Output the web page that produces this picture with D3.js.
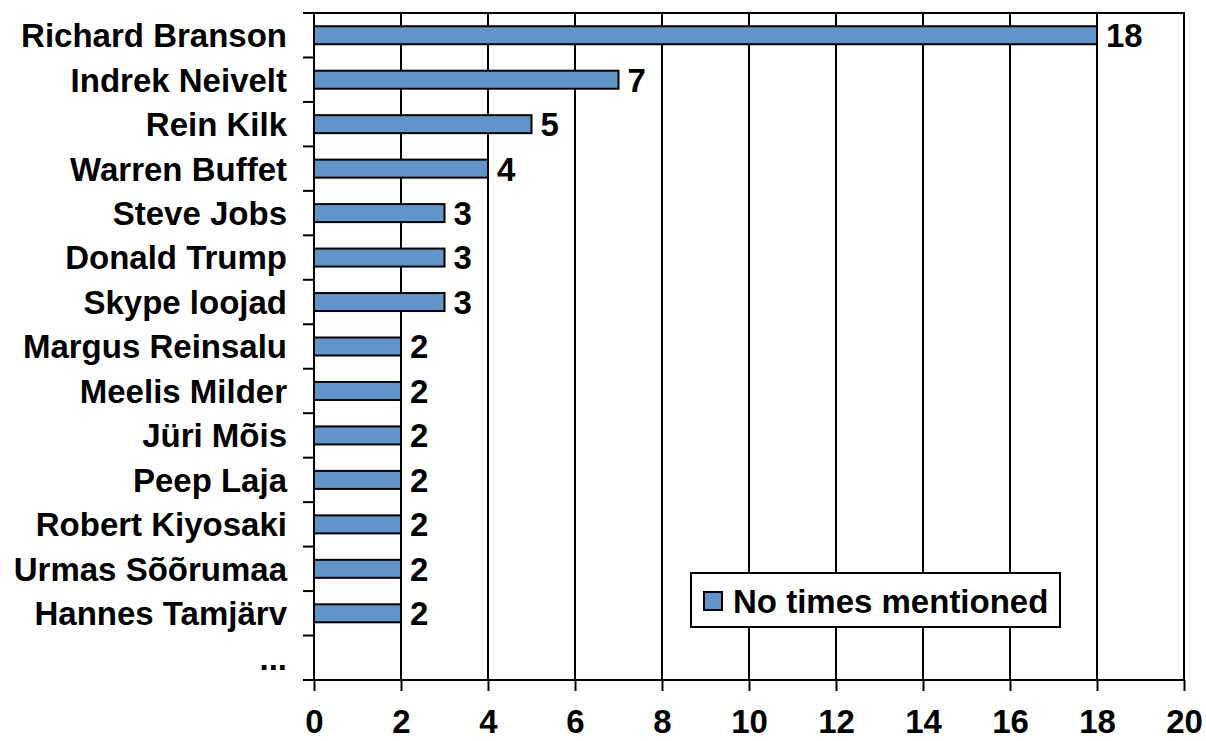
<!DOCTYPE html>
<html><head><meta charset="utf-8">
<script src="https://cdn.jsdelivr.net/npm/d3@7"></script>
<style>body{margin:0;background:#fff}svg{display:block}text{font-family:"Liberation Sans",Arial,sans-serif;font-weight:bold;fill:#000}</style>
</head><body>
<script>
const categories = ["Richard Branson","Indrek Neivelt","Rein Kilk","Warren Buffet","Steve Jobs","Donald Trump","Skype loojad","Margus Reinsalu","Meelis Milder","Jüri Mõis","Peep Laja","Robert Kiyosaki","Urmas Sõõrumaa","Hannes Tamjärv","..."];
const values = [18,7,5,4,3,3,3,2,2,2,2,2,2,2,null];
const xTicks = [0,2,4,6,8,10,12,14,16,18,20];
const seriesName = "No times mentioned";

const W=1206,H=741;
const L=314,R=1184,T=13,B=680;
const svg=d3.select("body").append("svg").attr("width",W).attr("height",H);
const x=d3.scaleLinear().domain([0,20]).range([L,R]);
const y=d3.scaleBand().domain(categories).range([T,B]).paddingInner(0).paddingOuter(0);
const fs=33;

// gridlines
svg.append("g").selectAll("line").data(xTicks.slice(1)).join("line")
 .attr("x1",d=>x(d)).attr("x2",d=>x(d)).attr("y1",T).attr("y2",B)
 .attr("stroke","#000").attr("stroke-width",2);

// bars
const bh=18;
const data=categories.map((c,i)=>({c,v:values[i]})).filter(d=>d.v!=null);
svg.append("g").selectAll("rect").data(data).join("rect")
 .attr("x",x(0)).attr("y",d=>y(d.c)+y.bandwidth()/2-bh/2)
 .attr("width",d=>x(d.v)-x(0)).attr("height",bh)
 .attr("fill","#6194C8").attr("stroke","#000").attr("stroke-width",2);

// value labels
svg.append("g").selectAll("text").data(data).join("text")
 .attr("x",d=>x(d.v)+9).attr("y",d=>y(d.c)+y.bandwidth()/2)
 .attr("dy","0.36em").attr("font-size",fs).text(d=>d.v);

// frame
svg.append("rect").attr("x",L).attr("y",T).attr("width",R-L).attr("height",B-T)
 .attr("fill","none").attr("stroke","#000").attr("stroke-width",2);

// y axis ticks at band boundaries
const bounds=categories.map(c=>y(c)).concat([B]);
svg.append("g").selectAll("line").data(bounds).join("line")
 .attr("x1",L-11).attr("x2",L).attr("y1",d=>d).attr("y2",d=>d)
 .attr("stroke","#000").attr("stroke-width",2);
svg.append("g").selectAll("text").data(categories).join("text")
 .attr("x",L-27).attr("y",d=>y(d)+y.bandwidth()/2).attr("dy","0.36em")
 .attr("text-anchor","end").attr("font-size",fs).text(d=>d);

// x axis
const xa=svg.append("g").attr("transform",`translate(0,${B})`)
 .call(d3.axisBottom(x).tickValues(xTicks).tickSize(11).tickSizeOuter(0).tickPadding(0));
xa.select(".domain").remove();
xa.selectAll("line").attr("stroke","#000").attr("stroke-width",2);
xa.selectAll("text").attr("y",53).attr("dy",null).attr("font-size",fs)
 .attr("font-family","Liberation Sans, Arial, sans-serif").attr("font-weight","bold").attr("fill","#000");

// legend
const lg=svg.append("g");
lg.append("rect").attr("x",691).attr("y",573).attr("width",369).attr("height",54)
 .attr("fill","#fff").attr("stroke","#000").attr("stroke-width",2);
lg.append("rect").attr("x",704).attr("y",592).attr("width",18).attr("height",18)
 .attr("fill","#6194C8").attr("stroke","#000").attr("stroke-width",2);
lg.append("text").attr("x",733).attr("y",601).attr("dy","0.36em").attr("font-size",fs).text(seriesName);
</script>
</body></html>
